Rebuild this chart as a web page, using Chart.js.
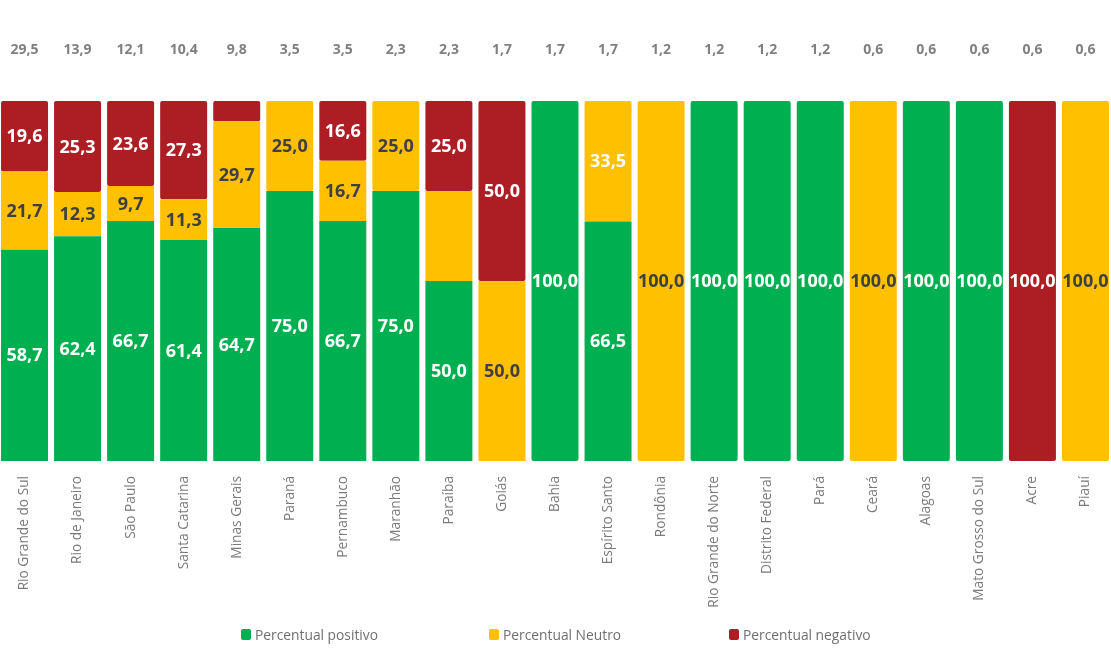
<!DOCTYPE html>
<html>
<head>
<meta charset="utf-8">
<script src="https://cdn.jsdelivr.net/npm/chart.js@4/dist/chart.umd.min.js"></script>
<style>
  html, body { margin: 0; padding: 0; background: #fff; overflow: hidden; }
  #wrap { position: relative; width: 1111px; height: 648px; overflow: hidden; }
  #frame { position: absolute; left: -5px; right: -4px; top: -5px; bottom: -4px; border: 1px solid #d6dde4; border-radius: 12px; pointer-events: none; }
  #c { position: absolute; left: -2px; top: 0; }
  #legend { position: absolute; top: 624px; left: 0; width: 1111px; height: 20px; font-family: "Open Sans", sans-serif; font-size: 13.8px; color: #707070; }
  .li { position: absolute; top: 0; display: flex; align-items: center; white-space: nowrap; height: 20px; }
  .sw { width: 10px; height: 11px; border-radius: 2px; margin-right: 4px; }
</style>
</head>
<body>
<div id="wrap">
  <canvas id="c" width="1114" height="648"></canvas>
  <div id="legend"></div>
  <div id="frame"></div>
</div>
<script>
const categories = ["Rio Grande do Sul","Rio de Janeiro","São Paulo","Santa Catarina","Minas Gerais","Paraná","Pernambuco","Maranhão","Paraíba","Goiás","Bahia","Espírito Santo","Rondônia","Rio Grande do Norte","Distrito Federal","Pará","Ceará","Alagoas","Mato Grosso do Sul","Acre","Piauí"];
const positivo = [58.7, 62.4, 66.7, 61.4, 64.7, 75.0, 66.7, 75.0, 50.0, 0, 100.0, 66.5, 0, 100.0, 100.0, 100.0, 0, 100.0, 100.0, 0, 0];
const neutro   = [21.7, 12.3, 9.7, 11.3, 29.7, 25.0, 16.7, 25.0, 25.0, 50.0, 0, 33.5, 100.0, 0, 0, 0, 100.0, 0, 0, 0, 100.0];
const negativo = [19.6, 25.3, 23.6, 27.3, 5.6, 0, 16.6, 0, 25.0, 50.0, 0, 0, 0, 0, 0, 0, 0, 0, 0, 100.0, 0];
const totais   = [29.5, 13.9, 12.1, 10.4, 9.8, 3.5, 3.5, 2.3, 2.3, 1.7, 1.7, 1.7, 1.2, 1.2, 1.2, 1.2, 0.6, 0.6, 0.6, 0.6, 0.6];
const seriesNames = ["Percentual positivo", "Percentual Neutro", "Percentual negativo"];

// labels not shown in the reference: [datasetIndex, categoryIndex]
const hiddenLabels = [[2, 4], [1, 8]];
// yellow segments whose label is white
const whiteOnYellow = [11];

const colors = ["#00B050", "#FFC000", "#AD1E24"];
const fmt = v => v.toFixed(1).replace('.', ',');

const labelPlugin = {
  id: 'segLabels',
  afterDatasetsDraw(chart) {
    const ctx = chart.ctx;
    ctx.save();
    ctx.textAlign = 'center';
    ctx.textBaseline = 'middle';
    ctx.font = 'bold 18px "Open Sans", sans-serif';
    chart.data.datasets.forEach((ds, di) => {
      const meta = chart.getDatasetMeta(di);
      meta.data.forEach((el, i) => {
        const v = ds.data[i];
        if (!v) return;
        if (hiddenLabels.some(h => h[0] === di && h[1] === i)) return;
        let col = '#ffffff';
        if (di === 1 && !whiteOnYellow.includes(i)) col = '#404040';
        ctx.fillStyle = col;
        ctx.fillText(fmt(v), el.x, (el.y + el.base) / 2 + 1);
      });
    });
    // totals above bars
    ctx.font = 'bold 14px "Open Sans", sans-serif';
    ctx.fillStyle = '#808080';
    const xs = chart.scales.x;
    const top = chart.chartArea.top;
    totais.forEach((t, i) => {
      ctx.fillText(fmt(t), xs.getPixelForValue(i), top - 51);
    });
    ctx.restore();
  }
};

const chart = new Chart(document.getElementById('c'), {
  type: 'bar',
  data: {
    labels: categories,
    datasets: [positivo, neutro, negativo].map((d, k) => ({
      label: seriesNames[k],
      data: d,
      backgroundColor: colors[k],
      borderWidth: 0,
      borderRadius: 2,
      borderSkipped: false,
      categoryPercentage: 0.886,
      barPercentage: 1.0
    }))
  },
  options: {
    responsive: false,
    animation: false,
    devicePixelRatio: 1,
    layout: { padding: { top: 101, left: 0, right: 0, bottom: 0 } },
    plugins: { legend: { display: false }, tooltip: { enabled: false } },
    scales: {
      x: {
        stacked: true,
        grid: { display: false, drawTicks: false },
        border: { display: false },
        ticks: {
          autoSkip: false,
          minRotation: 90, maxRotation: 90,
          padding: 15,
          color: '#7a7a7a',
          font: { family: '"Open Sans", sans-serif', size: 13.7 }
        },
        afterFit(scale) { scale.height = 187; scale.paddingLeft = 0; scale.paddingRight = 0; }
      },
      y: {
        stacked: true,
        display: false,
        min: 0, max: 100
      }
    }
  },
  plugins: [labelPlugin]
});

// legend built from datasets
const legendLefts = [241, 489, 729];
const lg = document.getElementById('legend');
chart.data.datasets.forEach((ds, k) => {
  const item = document.createElement('div');
  item.className = 'li';
  item.style.left = legendLefts[k] + 'px';
  const sw = document.createElement('span');
  sw.className = 'sw';
  sw.style.background = ds.backgroundColor;
  const tx = document.createElement('span');
  tx.textContent = ds.label;
  item.appendChild(sw); item.appendChild(tx);
  lg.appendChild(item);
});
</script>
</body>
</html>
